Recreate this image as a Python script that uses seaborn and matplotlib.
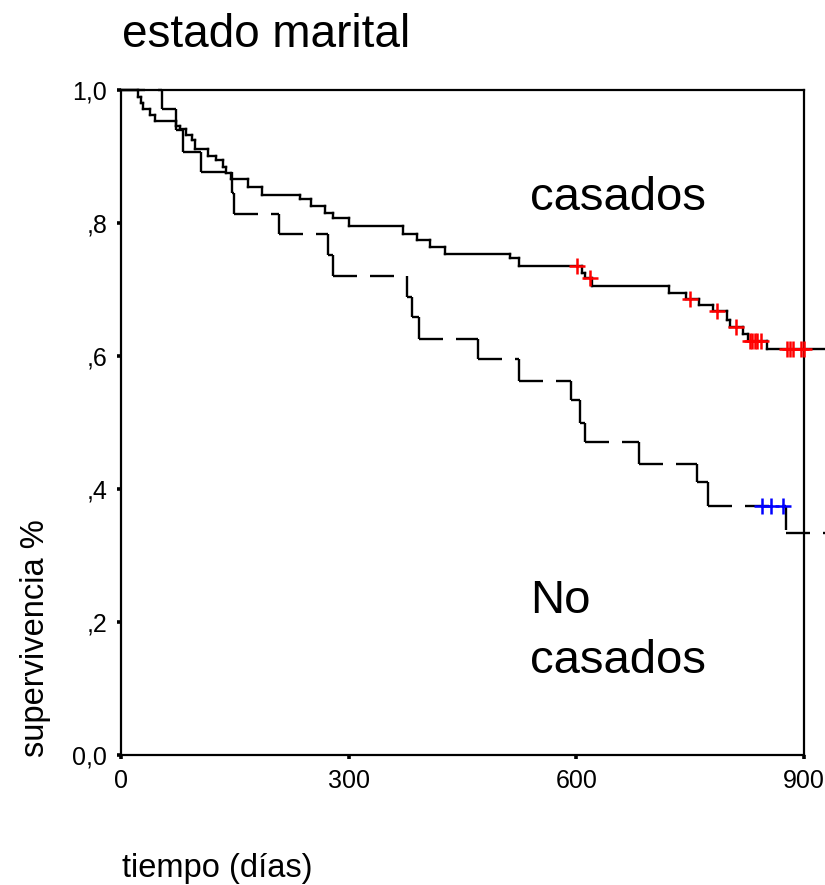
import numpy as np
import pandas as pd
import matplotlib
matplotlib.use("Agg")
import matplotlib.pyplot as plt
import seaborn as sns

# Kaplan-Meier survival steps (days, survival proportion)
casados_t = [23, 26, 29, 38, 45, 73, 78, 86, 94, 98, 115, 125, 134, 139, 145,
             168, 186, 236, 251, 269, 279, 300, 371, 390, 407, 427, 512, 525,
             608, 612, 620, 722, 744, 762, 780, 798, 802, 820, 826, 851]
casados_s = [0.990, 0.981, 0.971, 0.962, 0.953, 0.946, 0.941, 0.932, 0.925,
             0.912, 0.901, 0.895, 0.884, 0.875, 0.866, 0.854, 0.842, 0.836,
             0.825, 0.815, 0.807, 0.795, 0.784, 0.775, 0.764, 0.754, 0.747,
             0.735, 0.725, 0.717, 0.706, 0.695, 0.685, 0.677, 0.667, 0.654,
             0.643, 0.633, 0.622, 0.611]
casados_cens = [601, 618, 750, 785, 811, 829, 832, 835, 838, 843,
                877, 881, 885, 896, 900]

nocas_t = [54, 73, 82, 106, 146, 149, 208, 273, 279, 377, 383, 393, 470, 525,
           593, 605, 611, 682, 759, 774, 876]
nocas_s = [0.971, 0.940, 0.907, 0.876, 0.845, 0.813, 0.783, 0.752, 0.720,
           0.688, 0.659, 0.625, 0.595, 0.563, 0.534, 0.500, 0.470, 0.438,
           0.410, 0.375, 0.334]
nocas_cens = [844, 857, 872]

follow_end = 930
x_ticks = [0, 300, 600, 900]
y_ticks = [0.0, 0.2, 0.4, 0.6, 0.8, 1.0]
y_ticklabels = ["0,0", ",2", ",4", ",6", ",8", "1,0"]

sns.set_style("white")
plt.rcParams["font.family"] = ["Liberation Sans", "DejaVu Sans"]
plt.rcParams["text.color"] = "black"


def step_segments(times, surv):
    """Split a survival step curve into separate horizontal/vertical pieces
    so every piece starts its own dash pattern."""
    x = [0] + list(times) + [follow_end]
    y = [1.0] + list(surv) + [surv[-1]]
    rows = []
    seg = 0
    for i in range(len(x) - 1):
        rows.append((seg, x[i], y[i]))
        rows.append((seg, x[i + 1], y[i]))
        seg += 1
        if i + 1 < len(y) and y[i + 1] != y[i]:
            rows.append((seg, x[i + 1], y[i]))
            rows.append((seg, x[i + 1], y[i + 1]))
            seg += 1
    return pd.DataFrame(rows, columns=["seg", "dias", "surv"])


def surv_at(times, surv, t):
    idx = np.searchsorted(np.asarray(times), np.asarray(t), side="right")
    full = np.concatenate([[1.0], np.asarray(surv)])
    return full[idx]


fig = plt.figure(figsize=(8.25, 8.85), dpi=100)
ax = fig.add_axes([121 / 825, 130 / 885, 683 / 825, 665 / 885])

df_c = step_segments(casados_t, casados_s)
df_n = step_segments(nocas_t, nocas_s)

line_w = 1.7
px_per_lw = line_w * 100 / 72
sns.lineplot(data=df_c, x="dias", y="surv", units="seg", ax=ax,
             color="black", linewidth=line_w, estimator=None, sort=False,
             solid_capstyle="projecting", clip_on=False, zorder=3)
sns.lineplot(data=df_n, x="dias", y="surv", units="seg", ax=ax,
             color="black", linewidth=line_w, estimator=None, sort=False,
             linestyle=(0, (24 / px_per_lw, 13 / px_per_lw)),
             dash_capstyle="butt", clip_on=False, zorder=3)

# censored observations
cens_c = pd.DataFrame({"dias": casados_cens,
                       "surv": surv_at(casados_t, casados_s, casados_cens)})
cens_n = pd.DataFrame({"dias": nocas_cens,
                       "surv": surv_at(nocas_t, nocas_s, nocas_cens)})
sns.scatterplot(data=cens_c, x="dias", y="surv", ax=ax, marker="+", s=130,
                color="#ff0000", linewidth=1.8, clip_on=False, zorder=4)
sns.scatterplot(data=cens_n, x="dias", y="surv", ax=ax, marker="+", s=130,
                color="#0000ff", linewidth=1.8, clip_on=False, zorder=4)

ax.set_xlim(0, 900)
ax.set_ylim(0, 1.0)
ax.set_xticks(x_ticks)
ax.set_xticklabels([str(v) for v in x_ticks])
ax.set_yticks(y_ticks)
ax.set_yticklabels(y_ticklabels)
ax.tick_params(axis="both", which="major", direction="out", length=3,
               width=2.6, color="black", labelsize=18, labelcolor="black",
               bottom=True, left=True, top=False, right=False)
ax.tick_params(axis="x", pad=7)
ax.tick_params(axis="y", pad=7)
for sp in ax.spines.values():
    sp.set_visible(True)
    sp.set_color("black")
    sp.set_linewidth(1.6)
ax.set_xlabel("")
ax.set_ylabel("")

fig.text(122 / 825, 1 - 47 / 885, "estado marital", fontsize=33,
         color="black", ha="left", va="baseline")
fig.text(122 / 825, 1 - 877 / 885, "tiempo (días)", fontsize=23.5,
         color="black", ha="left", va="baseline")
fig.text(44 / 825, 1 - 757 / 885, "supervivencia %", fontsize=23.5,
         color="black", rotation=90, rotation_mode="anchor",
         ha="left", va="baseline")

ax.text(0.599, 0.8195, "casados", transform=ax.transAxes, fontsize=34,
        color="black", ha="left", va="baseline")
ax.text(0.599, 0.2135, "No", transform=ax.transAxes, fontsize=34,
        color="black", ha="left", va="baseline")
ax.text(0.599, 0.1233, "casados", transform=ax.transAxes, fontsize=34,
        color="black", ha="left", va="baseline")

fig.savefig("out.png", dpi=100)
